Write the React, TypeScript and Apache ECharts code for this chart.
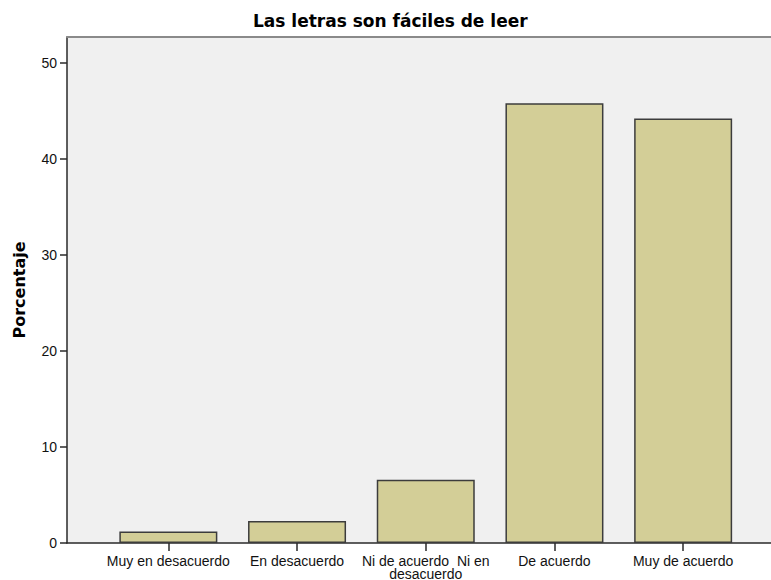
import React, { useEffect, useRef } from "react";
import * as echarts from "echarts";

const title = "Las letras son fáciles de leer";
const yAxisName = "Porcentaje";
const categories = [
  "Muy en desacuerdo",
  "En desacuerdo",
  "Ni de acuerdo  Ni en desacuerdo",
  "De acuerdo",
  "Muy de acuerdo",
];
const percentages = [1.2, 2.3, 6.6, 45.8, 44.2];
const yTicks = [0, 10, 20, 30, 40, 50];
const yMax = 52.7;

const TITLE_FONT = "DejaVu Sans";
const FONT = "Liberation Sans";

export default function App() {
  const ref = useRef<HTMLDivElement>(null);
  useEffect(() => {
    if (!ref.current) return;
    const chart = echarts.init(ref.current, undefined, { renderer: "svg" });
    const gridTop = 37;
    const gridHeight = 506;
    chart.setOption({
      animation: false,
      backgroundColor: "#ffffff",
      title: {
        text: title,
        left: 253,
        top: 12,
        padding: 0,
        textStyle: { fontFamily: TITLE_FONT, fontSize: 17, fontWeight: "bold", color: "#000" },
      },
      grid: [
        {
          left: 67,
          right: 0,
          top: gridTop,
          height: gridHeight,
          show: true,
          backgroundColor: "#f0f0f0",
          borderWidth: 0,
          containLabel: false,
          outerBoundsMode: "none",
        },
        {
          left: 104,
          width: 643.5,
          top: gridTop,
          height: gridHeight,
          containLabel: false,
          outerBoundsMode: "none",
        },
      ],
      xAxis: [
        {
          gridIndex: 0,
          type: "value",
          min: 0,
          max: 1,
          position: "bottom",
          axisLine: { show: true, lineStyle: { color: "#2a2a2a", width: 1.5 } },
          axisTick: { show: false },
          axisLabel: { show: false },
          splitLine: { show: false },
        },
        {
          gridIndex: 0,
          type: "value",
          min: 0,
          max: 1,
          position: "top",
          axisLine: { show: true, lineStyle: { color: "#8a8a8a", width: 2 } },
          axisTick: { show: false },
          axisLabel: { show: false },
          splitLine: { show: false },
        },
        {
          gridIndex: 1,
          type: "category",
          data: categories,
          axisLine: { show: false },
          axisTick: {
            show: true,
            alignWithLabel: true,
            length: 8,
            lineStyle: { color: "#2a2a2a", width: 1.5 },
          },
          axisLabel: {
            margin: 11,
            interval: 0,
            fontFamily: FONT,
            fontSize: 14,
            color: "#111",
            lineHeight: 13,
            formatter: (v: string) => v.replace("  Ni en desacuerdo", "  Ni en\ndesacuerdo"),
          },
        },
      ],
      yAxis: [
        {
          gridIndex: 0,
          type: "value",
          min: 0,
          max: yMax,
          interval: 10,
          name: yAxisName,
          nameLocation: "middle",
          nameGap: 40,
          nameTextStyle: { fontFamily: TITLE_FONT, fontSize: 16, fontWeight: "bold", color: "#000" },
          axisLine: { show: true, lineStyle: { color: "#2a2a2a", width: 1.5 } },
          axisTick: {
            show: true,
            length: 7,
            customValues: yTicks,
            lineStyle: { color: "#2a2a2a", width: 1.5 },
          },
          axisLabel: {
            margin: 10,
            customValues: yTicks,
            fontFamily: FONT,
            fontSize: 14,
            color: "#111",
          },
          splitLine: { show: false },
        },
        {
          gridIndex: 1,
          type: "value",
          min: 0,
          max: yMax,
          show: false,
          splitLine: { show: false },
        },
      ],
      series: [
        {
          type: "bar",
          xAxisIndex: 2,
          yAxisIndex: 1,
          data: percentages,
          barWidth: 98,
          itemStyle: { color: "#d3ce97", borderColor: "#3c3c3c", borderWidth: 1.5 },
        },
      ],
    });
    return () => chart.dispose();
  }, []);
  return (
    <div
      ref={ref}
      style={{ position: "fixed", left: 0, top: 0, width: 771, height: 580 }}
    />
  );
}
